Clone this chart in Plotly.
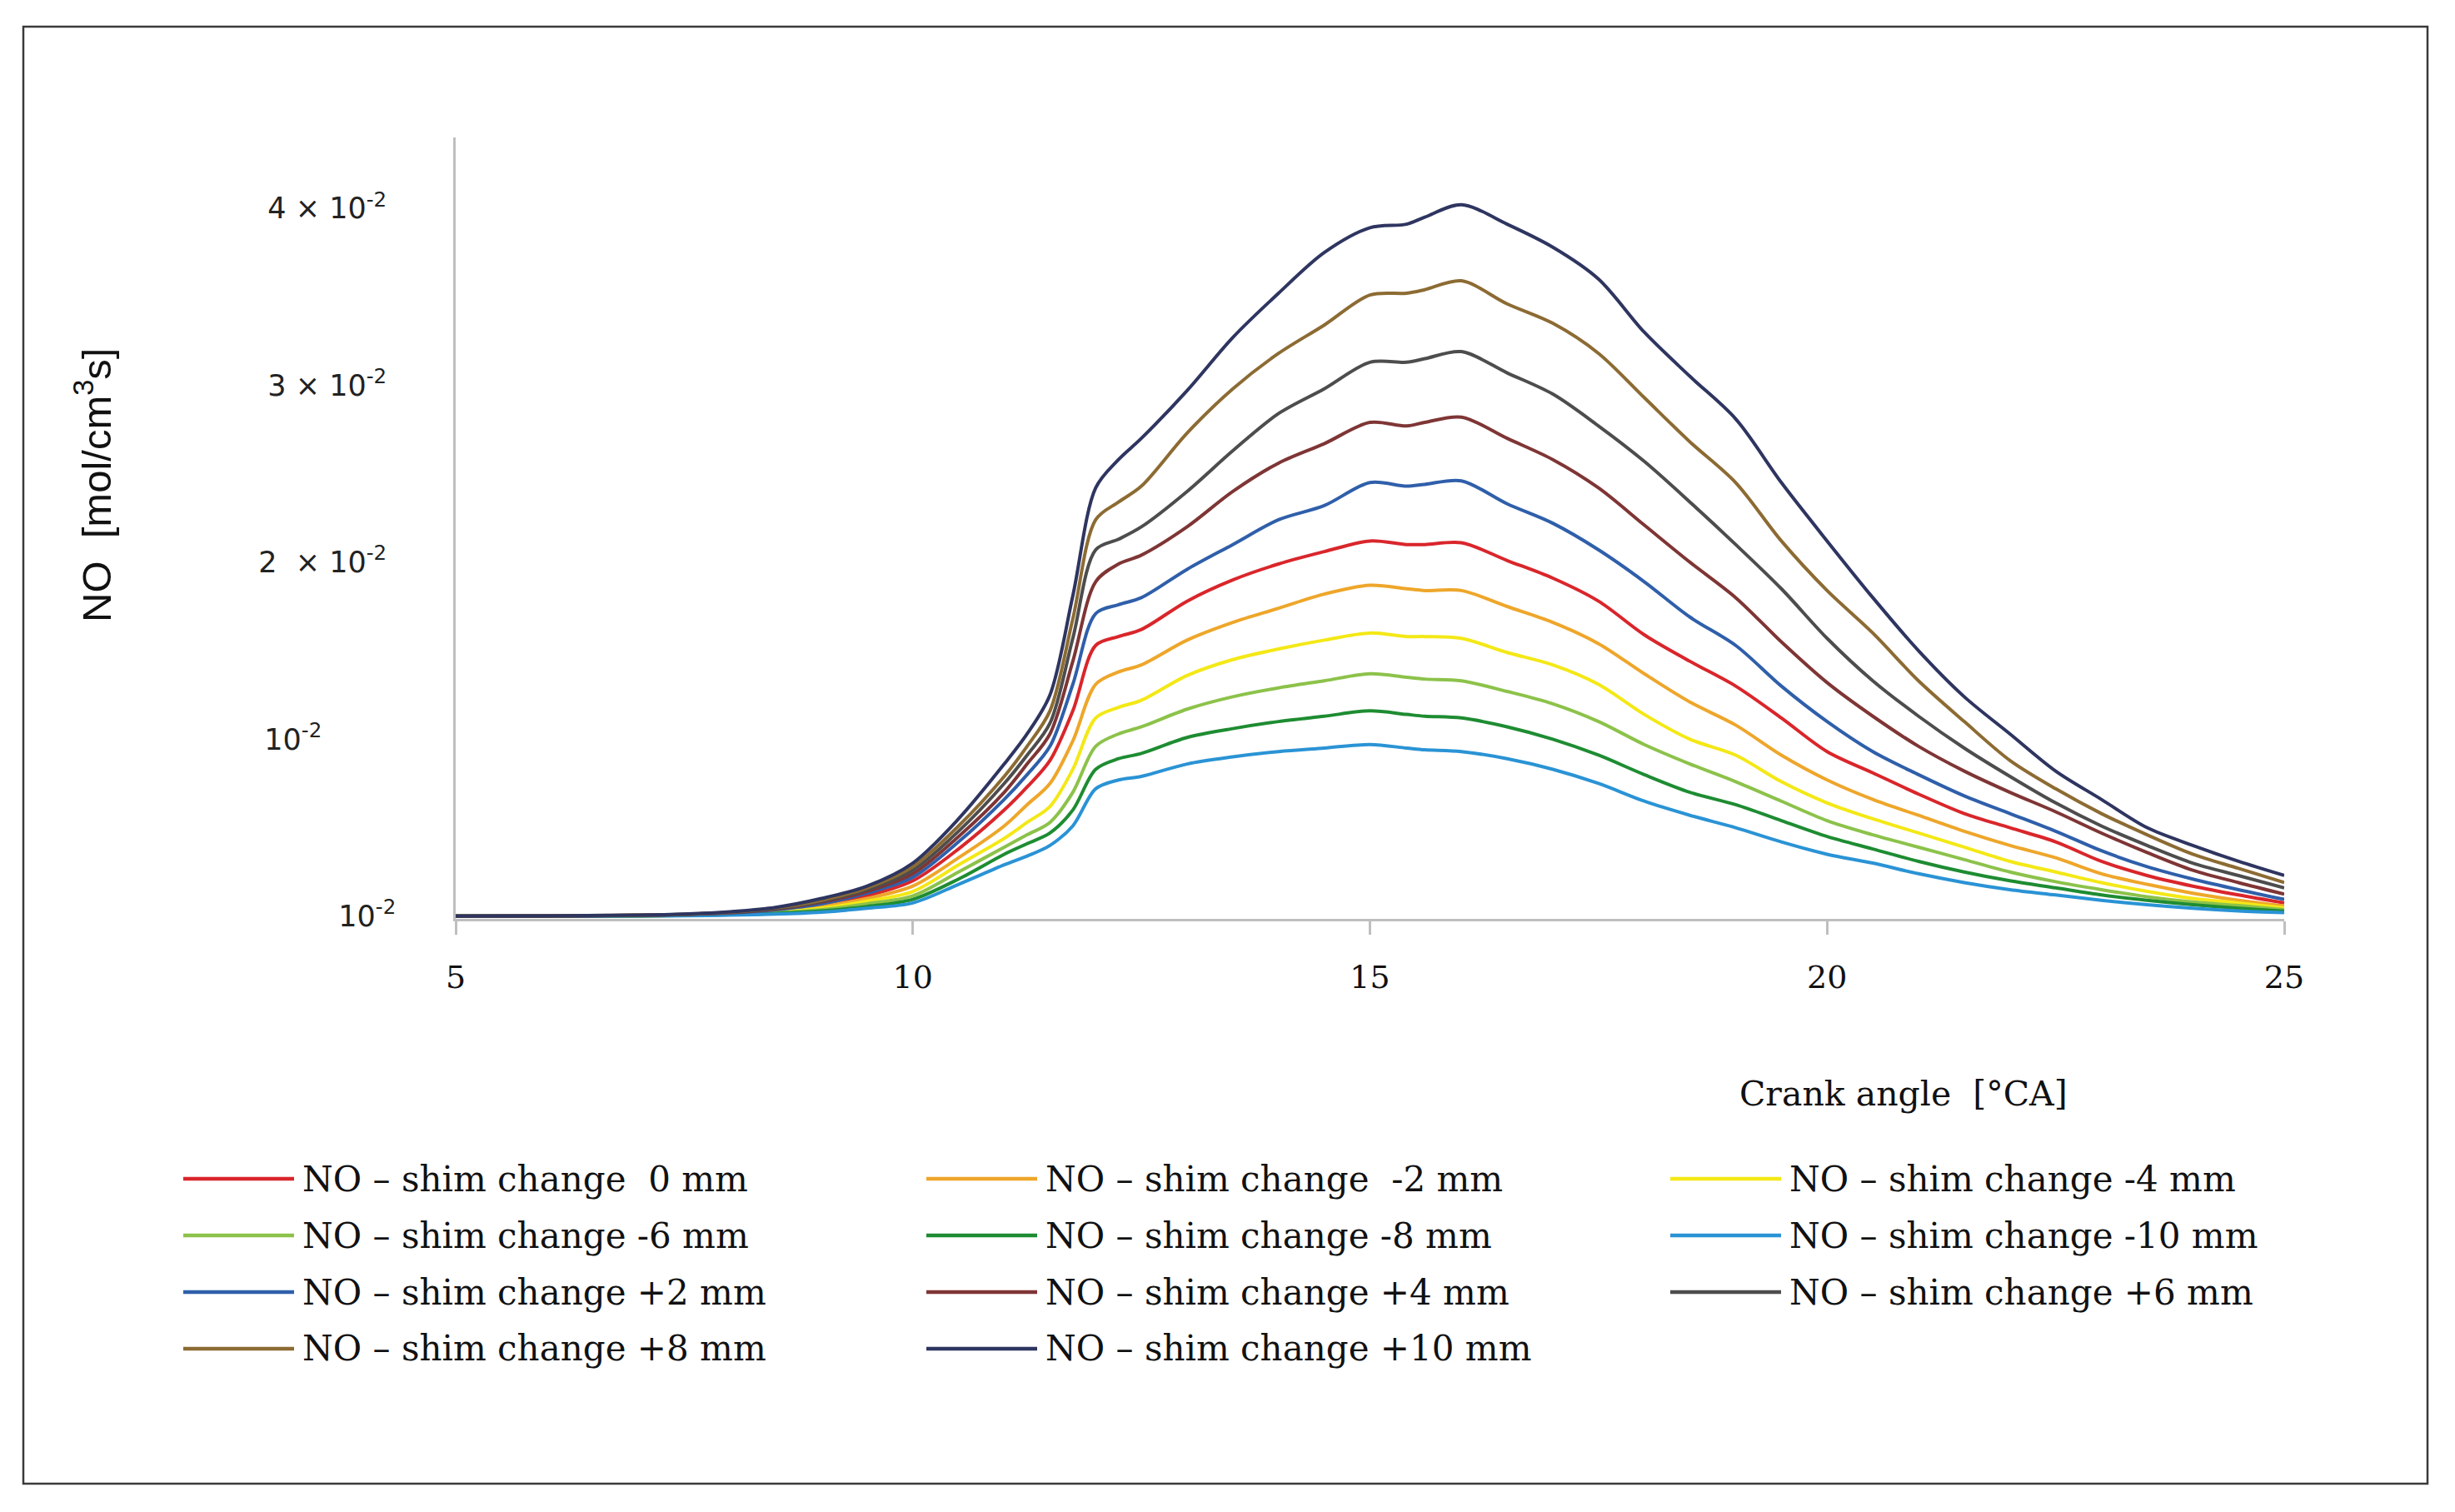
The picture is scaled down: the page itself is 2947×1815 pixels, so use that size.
import plotly.graph_objects as go

# ---------------- data (NO rate in units of 10^-2 mol/cm^3 s) ----------------
crank_angle = [5, 6, 7, 7.5, 8, 8.5, 9, 9.5, 10, 10.5, 11, 11.25, 11.5, 11.75, 12, 12.25, 12.5,
               13, 13.5, 14, 14.5, 15, 15.4, 15.6, 16, 16.5, 17, 17.5, 18, 18.5, 19, 19.5, 20,
               20.5, 21, 21.5, 22, 22.5, 23, 23.5, 24, 24.5, 25]

no_0mm = [0, 0.001, 0.004, 0.008, 0.016, 0.033, 0.065, 0.115, 0.20, 0.38, 0.60, 0.73, 0.88, 1.16, 1.53, 1.58, 1.62,
          1.78, 1.90, 1.99, 2.06, 2.12, 2.10, 2.10, 2.11, 2.01, 1.91, 1.78, 1.59, 1.44, 1.30, 1.12, 0.93,
          0.81, 0.69, 0.58, 0.50, 0.42, 0.31, 0.23, 0.17, 0.12, 0.075]
no_m2mm = [0, 0.001, 0.003, 0.007, 0.014, 0.028, 0.055, 0.10, 0.17, 0.33, 0.51, 0.63, 0.75, 0.99, 1.31, 1.38, 1.42,
           1.56, 1.66, 1.74, 1.82, 1.87, 1.85, 1.84, 1.84, 1.75, 1.66, 1.54, 1.37, 1.21, 1.08, 0.91, 0.77,
           0.66, 0.57, 0.48, 0.40, 0.33, 0.24, 0.18, 0.13, 0.09, 0.058]
no_m4mm = [0, 0.001, 0.003, 0.006, 0.012, 0.024, 0.045, 0.085, 0.14, 0.29, 0.44, 0.53, 0.62, 0.83, 1.12, 1.18, 1.22,
           1.36, 1.45, 1.51, 1.56, 1.60, 1.58, 1.58, 1.57, 1.49, 1.42, 1.31, 1.14, 1.00, 0.91, 0.76, 0.64,
           0.55, 0.47, 0.39, 0.31, 0.25, 0.19, 0.14, 0.10, 0.075, 0.047]
no_m6mm = [0, 0.001, 0.002, 0.005, 0.010, 0.020, 0.037, 0.07, 0.115, 0.25, 0.39, 0.46, 0.53, 0.70, 0.96, 1.03, 1.07,
           1.17, 1.24, 1.29, 1.33, 1.37, 1.35, 1.34, 1.33, 1.27, 1.20, 1.10, 0.97, 0.86, 0.76, 0.65, 0.54,
           0.46, 0.39, 0.32, 0.25, 0.195, 0.15, 0.11, 0.08, 0.06, 0.037]
no_m8mm = [0, 0.001, 0.002, 0.004, 0.008, 0.016, 0.03, 0.055, 0.095, 0.21, 0.35, 0.41, 0.47, 0.60, 0.83, 0.89, 0.92,
           1.01, 1.06, 1.10, 1.13, 1.16, 1.14, 1.13, 1.12, 1.07, 1.00, 0.91, 0.80, 0.70, 0.63, 0.54, 0.45,
           0.38, 0.31, 0.25, 0.20, 0.16, 0.12, 0.09, 0.065, 0.045, 0.028]
no_m10mm = [0, 0.001, 0.002, 0.003, 0.006, 0.012, 0.023, 0.045, 0.075, 0.18, 0.29, 0.34, 0.40, 0.51, 0.72, 0.77, 0.79,
            0.86, 0.90, 0.93, 0.95, 0.97, 0.95, 0.94, 0.93, 0.89, 0.83, 0.75, 0.65, 0.57, 0.50, 0.42, 0.35,
            0.30, 0.24, 0.19, 0.15, 0.12, 0.09, 0.065, 0.045, 0.03, 0.02]
no_p2mm = [0, 0.001, 0.004, 0.009, 0.018, 0.037, 0.07, 0.13, 0.22, 0.42, 0.66, 0.80, 0.96, 1.31, 1.71, 1.76, 1.80,
           1.96, 2.10, 2.24, 2.32, 2.45, 2.43, 2.44, 2.46, 2.33, 2.22, 2.07, 1.89, 1.69, 1.53, 1.30, 1.10,
           0.93, 0.80, 0.68, 0.58, 0.48, 0.37, 0.28, 0.21, 0.15, 0.095]
no_p4mm = [0, 0.002, 0.005, 0.010, 0.020, 0.040, 0.08, 0.14, 0.24, 0.45, 0.70, 0.86, 1.03, 1.44, 1.89, 1.99, 2.04,
           2.20, 2.40, 2.56, 2.67, 2.79, 2.77, 2.79, 2.82, 2.70, 2.58, 2.42, 2.21, 2.00, 1.80, 1.55, 1.32,
           1.13, 0.96, 0.82, 0.70, 0.59, 0.47, 0.36, 0.26, 0.19, 0.125]
no_p6mm = [0, 0.002, 0.005, 0.010, 0.021, 0.044, 0.085, 0.15, 0.26, 0.48, 0.75, 0.91, 1.09, 1.57, 2.07, 2.13, 2.20,
           2.40, 2.63, 2.84, 2.98, 3.13, 3.13, 3.15, 3.19, 3.07, 2.95, 2.77, 2.57, 2.34, 2.10, 1.85, 1.57,
           1.33, 1.13, 0.95, 0.79, 0.64, 0.51, 0.40, 0.30, 0.23, 0.16]
no_p8mm = [0, 0.002, 0.006, 0.011, 0.023, 0.047, 0.09, 0.16, 0.28, 0.51, 0.79, 0.96, 1.16, 1.68, 2.24, 2.34, 2.43,
           2.73, 2.98, 3.18, 3.34, 3.51, 3.52, 3.54, 3.59, 3.46, 3.35, 3.18, 2.93, 2.68, 2.45, 2.12, 1.84,
           1.60, 1.33, 1.10, 0.88, 0.72, 0.58, 0.46, 0.35, 0.27, 0.19]
no_p10mm = [0, 0.002, 0.006, 0.012, 0.025, 0.05, 0.10, 0.17, 0.30, 0.55, 0.86, 1.03, 1.25, 1.81, 2.42, 2.58, 2.70,
            2.97, 3.27, 3.52, 3.75, 3.89, 3.91, 3.95, 4.02, 3.91, 3.78, 3.60, 3.30, 3.05, 2.81, 2.45, 2.12,
            1.80, 1.50, 1.24, 1.03, 0.82, 0.66, 0.50, 0.40, 0.31, 0.23]

NB = "\u00a0"
series_names = [
    "NO – shim change" + NB + " 0 mm",
    "NO – shim change" + NB + " -2 mm",
    "NO – shim change -4 mm",
    "NO – shim change -6 mm",
    "NO – shim change -8 mm",
    "NO – shim change -10 mm",
    "NO – shim change +2 mm",
    "NO – shim change +4 mm",
    "NO – shim change +6 mm",
    "NO – shim change +8 mm",
    "NO – shim change +10 mm",
]
series_values = [no_0mm, no_m2mm, no_m4mm, no_m6mm, no_m8mm, no_m10mm,
                 no_p2mm, no_p4mm, no_p6mm, no_p8mm, no_p10mm]
series_colors = ["#d9262b", "#eea62a", "#f4e816", "#8cc24a", "#1e8c32", "#2a93d5",
                 "#2f5faa", "#7f3535", "#4d4d4d", "#8c6b33", "#2e3560"]

x_tick_vals = [5, 10, 15, 20, 25]
y_tick_vals = [0, 1, 2, 3, 4]
y_tick_text = ["10<sup>-2</sup>",
               "10<sup>-2</sup>" + NB * 8,
               "2" + NB + " × 10<sup>-2</sup>" + NB,
               "3 × 10<sup>-2</sup>" + NB,
               "4 × 10<sup>-2</sup>" + NB]

# ---------------- layout geometry (page pixels; page has an 8 px body margin) ----------------
OFF = 8
W, H = 2947 - 2 * OFF, 1815 - 2 * OFF
PLOT_L, PLOT_R, PLOT_T, PLOT_B = 547, 2742, 165, 1103   # plot-area edges in page pixels
L, T = PLOT_L - OFF, PLOT_T - OFF
R, B = W - (PLOT_R - OFF), H - (PLOT_B - OFF)
PW, PH = W - L - R, H - T - B


def pxx(px):
    return (px - OFF - L) / PW


def pxy(py):
    return (H - B - (py - OFF)) / PH


fig = go.Figure()
for name, vals, col in zip(series_names, series_values, series_colors):
    fig.add_trace(go.Scatter(x=crank_angle, y=vals, name=name, mode="lines",
                             line=dict(color=col, width=4, shape="spline", smoothing=0.9),
                             showlegend=False))

serif = "DejaVu Serif"
fig.update_layout(
    width=W, height=H, autosize=False,
    margin=dict(l=L, r=R, t=T, b=B),
    paper_bgcolor="white", plot_bgcolor="white",
    xaxis=dict(range=[5, 25], tickvals=x_tick_vals, ticks="outside", ticklen=16,
               tickcolor="#bfbfbf", tickwidth=2.5, showline=True, linecolor="#bfbfbf",
               linewidth=3, showgrid=False, zeroline=False, layer="below traces",
               tickfont=dict(family=serif, size=38, color="#111"), ticklabelstandoff=18),
    yaxis=dict(range=[-0.015, 4.4], tickvals=y_tick_vals, ticktext=y_tick_text, ticks="",
               showline=True, linecolor="#bfbfbf", linewidth=2.5, showgrid=False,
               zeroline=False, layer="below traces",
               tickfont=dict(family="DejaVu Sans", size=35, color="#222"),
               ticklabelstandoff=62),
)

annotations = [
    dict(text="NO" + NB + NB + "[mol/cm<sup>3</sup>s]", xref="paper", yref="paper",
         x=pxx(112), y=pxy(583), textangle=-90, showarrow=False,
         xanchor="center", yanchor="middle",
         font=dict(family="Liberation Sans", size=49, color="#111")),
    dict(text="Crank angle" + NB + " [°CA]", xref="paper", yref="paper",
         x=pxx(2285), y=pxy(1313), showarrow=False, xanchor="center", yanchor="middle",
         font=dict(family=serif, size=41, color="#111")),
]

shapes = [dict(type="rect", xref="paper", yref="paper", x0=pxx(28), x1=pxx(2914),
               y0=pxy(1781), y1=pxy(32), line=dict(color="#3a3a3a", width=2.5))]

# custom legend: 3 columns x 4 rows
COL_X = [220, 1112, 2005]
ROW_Y = [1415, 1483, 1551, 1619]
LINE_LEN = 133
for i, (name, col) in enumerate(zip(series_names, series_colors)):
    r, c = divmod(i, 3)
    x0 = COL_X[c]
    y0 = ROW_Y[r]
    shapes.append(dict(type="line", xref="paper", yref="paper", x0=pxx(x0), x1=pxx(x0 + LINE_LEN),
                       y0=pxy(y0), y1=pxy(y0), line=dict(color=col, width=4.5)))
    annotations.append(dict(text=name, xref="paper", yref="paper", x=pxx(x0 + LINE_LEN + 8),
                            y=pxy(y0), xanchor="left", yanchor="middle", showarrow=False,
                            font=dict(family=serif, size=42, color="#111")))

fig.update_layout(annotations=annotations, shapes=shapes)
fig.write_html("out.html")
